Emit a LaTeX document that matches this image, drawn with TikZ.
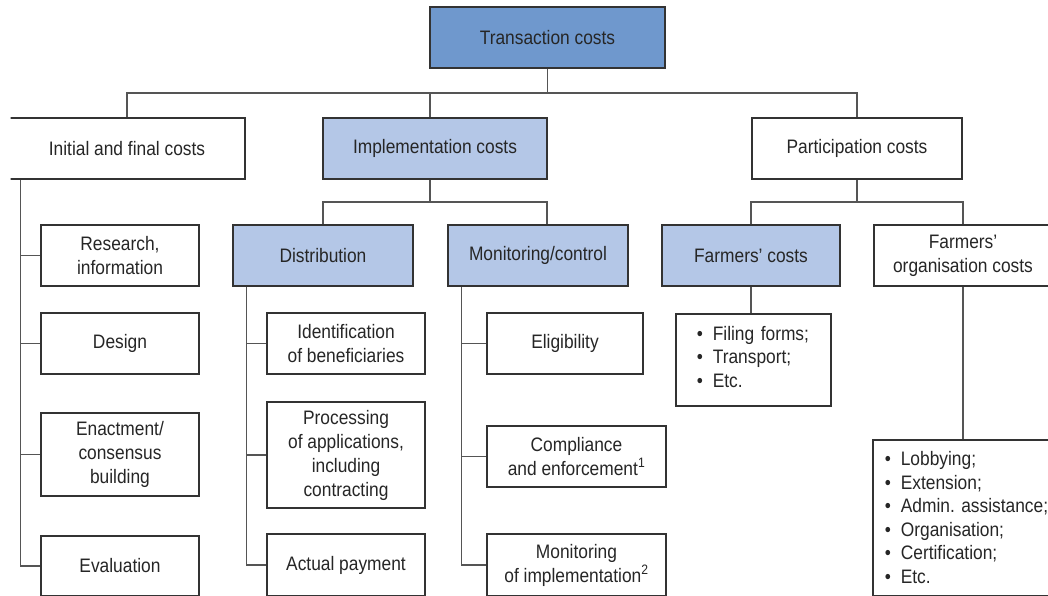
\documentclass[tikz,border=0pt]{standalone}
\usepackage{fontspec}
\setmainfont{Liberation Sans}[FakeStretch=0.89]
\frenchspacing
\definecolor{boxline}{HTML}{333333}
\definecolor{connline}{HTML}{555555}
\definecolor{txt}{HTML}{262626}
\definecolor{darkblue}{HTML}{6F98CD}
\definecolor{lightblue}{HTML}{B4C7E7}
\tikzset{
  box/.style={draw=boxline, line width=1.5pt, fill=white, text=txt, align=center,
    inner sep=0pt, font=\fontsize{19.5}{24}\selectfont},
  darkbox/.style={box, fill=darkblue},
  lightbox/.style={box, fill=lightblue},
  listbox/.style={box, align=left, anchor=north west, font=\fontsize{19.5}{23.5}\selectfont},
  conn/.style={draw=connline, line width=1.1pt},
}
\newcommand{\itm}[1]{\textbullet\hspace{10pt}#1}
\begin{document}
\begin{tikzpicture}[x=1pt,y=-1pt]
\useasboundingbox (0,0) rectangle (1048,596);
\clip (10.5,0) rectangle (1048,596);
% level 1
\node[darkbox, minimum width=235pt, minimum height=61pt] (tc) at (547.5,37.5) {Transaction costs};
% level 2
\node[box, minimum width=236pt, minimum height=61pt] (ifc) at (127,148.5) {Initial and final costs};
\node[lightbox, minimum width=224pt, minimum height=61pt] (ic) at (435,148.5) {Implementation costs};
\node[box, minimum width=210pt, minimum height=61pt] (pc) at (857,148.5) {Participation costs};
% level 3
\node[lightbox, minimum width=180pt, minimum height=61pt] (dist) at (323,255.5) {Distribution};
\node[lightbox, minimum width=180pt, minimum height=61pt] (mon) at (538,255.5) {Monitoring/control};
\node[lightbox, minimum width=178pt, minimum height=61pt] (fc) at (751,255.5) {Farmers’ costs};
\node[box, minimum width=178pt, minimum height=61pt] (foc) at (963,255.5) {Farmers’\\organisation costs};
% initial and final children
\node[box, minimum width=158pt, minimum height=61pt] (r1) at (120,255.5) {Research,\\information};
\node[box, minimum width=158pt, minimum height=61pt] (r2) at (120,343.5) {Design};
\node[box, minimum width=158pt, minimum height=83pt] (r3) at (120,454.5) {Enactment/\\consensus\\building};
\node[box, minimum width=158pt, minimum height=60pt] (r4) at (120,566) {Evaluation};
% distribution children
\node[box, minimum width=158pt, minimum height=61pt] (d1) at (346,343.5) {Identification\\of beneficiaries};
\node[box, minimum width=158pt, minimum height=106pt] (d2) at (346,455) {Processing\\of applications,\\including\\contracting};
\node[box, minimum width=158pt, minimum height=62pt] (d3) at (346,565) {Actual payment};
% monitoring children
\node[box, minimum width=156pt, minimum height=61pt] (m1) at (565,343.5) {Eligibility};
\node[box, minimum width=179pt, minimum height=61pt] (m2) at (576.5,456.5) {Compliance\\and enforcement\textsuperscript{1}};
\node[box, minimum width=179pt, minimum height=62pt] (m3) at (576.5,565) {Monitoring\\of implementation\textsuperscript{2}};
% lists
\node[listbox, minimum width=155pt, minimum height=92pt, inner xsep=21pt, text width=113pt] (fl) at (675,313)
  {\itm{Filing forms;}\\\itm{Transport;}\\\itm{Etc.}\par\vspace{6pt}};
\node[listbox, minimum width=180pt, minimum height=156pt, inner xsep=12pt, text width=220pt] (ol) at (872,439)
  {\itm{Lobbying;}\\\itm{Extension;}\\\itm{Admin. assistance;}\\\itm{Organisation;}\\\itm{Certification;}\\\itm{Etc.}};
% buses
\coordinate (b1) at (0,93);
\coordinate (b2) at (0,202);
\draw[conn] (tc.south) -- (tc.south |- b1);
\draw[conn] (ifc.north) -- (ifc.north |- b1) -- (pc.north |- b1) -- (pc.north);
\draw[conn] ([xshift=-5pt]ic.north) -- ([xshift=-5pt]ic.north |- b1);
\draw[conn] ([xshift=-5pt]ic.south) -- ([xshift=-5pt]ic.south |- b2);
\draw[conn] (dist.north) -- (dist.north |- b2) -- ([xshift=9pt]mon.north |- b2) -- ([xshift=9pt]mon.north);
\draw[conn] (pc.south) -- (pc.south |- b2);
\draw[conn] (fc.north) -- (fc.north |- b2) -- (foc.north |- b2) -- (foc.north);
\draw[conn] (fc.south) -- (fl.north -| fc.south);
\draw[conn] (foc.south) -- (ol.north -| foc.south);
% spines
\coordinate (s1) at ([xshift=12pt]ifc.south west);
\draw[conn] (s1) |- (r4.west);
\draw[conn] (s1 |- r1.west) -- (r1.west);
\draw[conn] (s1 |- r2.west) -- (r2.west);
\draw[conn] (s1 |- r3.west) -- (r3.west);
\coordinate (s2) at ([xshift=14pt]dist.south west);
\draw[conn] (s2) |- (d3.west);
\draw[conn] (s2 |- d1.west) -- (d1.west);
\draw[conn] (s2 |- d2.west) -- (d2.west);
\coordinate (s3) at ([xshift=14pt]mon.south west);
\draw[conn] (s3) |- (m3.west);
\draw[conn] (s3 |- m1.west) -- (m1.west);
\draw[conn] (s3 |- m2.west) -- (m2.west);
\end{tikzpicture}
\end{document}
